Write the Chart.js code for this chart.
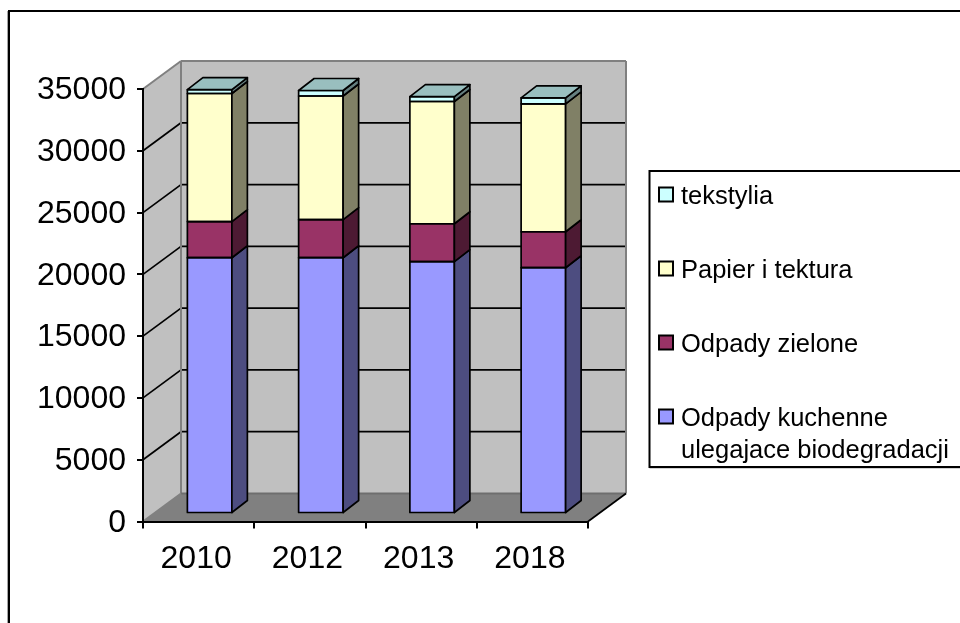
<!DOCTYPE html>
<html><head><meta charset="utf-8">
<style>html,body{margin:0;padding:0;background:#fff;overflow:hidden}canvas{display:block}</style>
<script src="https://cdn.jsdelivr.net/npm/chart.js@4"></script>
</head><body><canvas id="c" width="960" height="623"></canvas>
<script>
const categories = ["2010","2012","2013","2018"];
const kuchenne = [20700,20700,20380,19890];
const zielone  = [2920,3080,3070,2910];
const papier   = [10370,10005,9890,10350];
const tekstylia= [310,445,400,490];
const labelKuchenne = ["Odpady kuchenne","ulegajace biodegradacji"];
const labelZielone = "Odpady zielone";
const labelPapier = "Papier i tektura";
const labelTekstylia = "tekstylia";
const yTicks = [0,5000,10000,15000,20000,25000,30000,35000];

const WALL_DX=38, WALL_DY=28, BAR_DX=11, BAR_DY=8, DEPTH_DX=15.5, DEPTH_DY=12;
const FONT='"Liberation Sans", Arial, sans-serif';
const LW=1.7;

function poly(ctx,pts,fill,stroke,lw){
  ctx.beginPath();pts.forEach((p,i)=>i?ctx.lineTo(p[0],p[1]):ctx.moveTo(p[0],p[1]));ctx.closePath();
  if(fill){ctx.fillStyle=fill;ctx.fill();}
  if(stroke){ctx.strokeStyle=stroke;ctx.lineWidth=lw;ctx.lineJoin='round';ctx.stroke();}
}
function seg(ctx,x1,y1,x2,y2,c,lw){ctx.beginPath();ctx.moveTo(x1,y1);ctx.lineTo(x2,y2);ctx.strokeStyle=c;ctx.lineWidth=lw;ctx.stroke();}

const scene={
  id:'scene',
  beforeDraw(chart){
    const {ctx,scales:{x,y}}=chart;
    const L=x.left,R=x.right,T=y.getPixelForValue(35000),B=y.getPixelForValue(0);
    ctx.save();
    ctx.fillStyle='#fff';ctx.fillRect(0,0,960,623);
    seg(ctx,7.5,11,7.5,623,'#a6a6a6',1);
    seg(ctx,9,10,9,623,'#000',2);
    seg(ctx,8,11,960,11,'#000',2);
    poly(ctx,[[L,T],[L+WALL_DX,T-WALL_DY],[L+WALL_DX,B-WALL_DY],[L,B]],'#C0C0C0');
    poly(ctx,[[L+WALL_DX,T-WALL_DY],[R+WALL_DX,T-WALL_DY],[R+WALL_DX,B-WALL_DY],[L+WALL_DX,B-WALL_DY]],'#C0C0C0');
    poly(ctx,[[L,B],[L+WALL_DX,B-WALL_DY],[R+WALL_DX,B-WALL_DY],[R,B]],'#808080');
    yTicks.forEach(v=>{
      if(v===0||v===35000)return;
      const p=y.getPixelForValue(v);
      seg(ctx,L,p,L+WALL_DX,p-WALL_DY,'#000',LW);
      seg(ctx,L+WALL_DX,p-WALL_DY,R+WALL_DX-1,p-WALL_DY,'#000',LW);
    });
    const g='#808080';
    seg(ctx,L+WALL_DX,T-WALL_DY,R+WALL_DX,T-WALL_DY,g,2);
    seg(ctx,L,T,L+WALL_DX,T-WALL_DY,g,2);
    seg(ctx,L+WALL_DX,T-WALL_DY,L+WALL_DX,B-WALL_DY,g,2);
    seg(ctx,R+WALL_DX,T-WALL_DY,R+WALL_DX,B-WALL_DY,g,2);
    seg(ctx,L+WALL_DX,B-WALL_DY,R+WALL_DX,B-WALL_DY,'#6e6e6e',2);
    seg(ctx,L,B,L+WALL_DX,B-WALL_DY,g,2);
    seg(ctx,R,B,R+WALL_DX,B-WALL_DY,'#000',LW);
    ctx.restore();
  },
  beforeDatasetsDraw(chart){
    const {ctx}=chart;
    ctx.save();
    ctx.translate(BAR_DX,-BAR_DY);
  },
  afterDatasetsDraw(chart){
    const {ctx,data}=chart;
    const n=data.datasets.length;
    data.datasets.forEach((ds,i)=>{
      chart.getDatasetMeta(i).data.forEach(b=>{
        const xr=b.x+b.width/2, xl=b.x-b.width/2, top=b.y, bot=b.base;
        poly(ctx,[[xl,top],[xr,top],[xr,bot],[xl,bot]],null,'#000',LW);
        poly(ctx,[[xr,top],[xr+DEPTH_DX,top-DEPTH_DY],[xr+DEPTH_DX,bot-DEPTH_DY],[xr,bot]],ds.sideColor,'#000',LW);
        if(i===n-1) poly(ctx,[[xl,top],[xl+DEPTH_DX,top-DEPTH_DY],[xr+DEPTH_DX,top-DEPTH_DY],[xr,top]],ds.topColor,'#000',LW);
      });
    });
    ctx.restore();
  },
  afterDraw(chart){
    const {ctx,data}=chart;
    ctx.save();
    seg(ctx,649.5,468,960,468,'#a6a6a6',1);
    seg(ctx,649.5,171,960,171,'#000',2);
    seg(ctx,649.5,467,960,467,'#000',2);
    seg(ctx,649.5,170,649.5,468,'#000',2);
    const rows=[194.5,268.5,342.5,416.5];
    ctx.font='25.5px '+FONT;ctx.textAlign='left';ctx.textBaseline='alphabetic';
    [3,2,1,0].forEach((di,r)=>{
      const ds=data.datasets[di], cy=rows[r];
      ctx.fillStyle=ds.backgroundColor;ctx.fillRect(659,cy-7,14,14);
      ctx.strokeStyle='#000';ctx.lineWidth=2;ctx.strokeRect(659,cy-7,14,14);
      ctx.fillStyle='#000';
      [].concat(ds.label).forEach((t,k)=>ctx.fillText(t,681,cy+9.5+k*32));
    });
    ctx.restore();
  }
};

new Chart(document.getElementById('c'),{
  type:'bar',
  data:{labels:categories,datasets:[
    {label:labelKuchenne,data:kuchenne,backgroundColor:'#9999FF',sideColor:'#4D4D80',topColor:'#7373BF'},
    {label:labelZielone,data:zielone,backgroundColor:'#993366',sideColor:'#4D1A33',topColor:'#732650'},
    {label:labelPapier,data:papier,backgroundColor:'#FFFFCC',sideColor:'#808066',topColor:'#BFBF99'},
    {label:labelTekstylia,data:tekstylia,backgroundColor:'#CCFFFF',sideColor:'#668080',topColor:'#99BFBF'}
  ].map(d=>Object.assign(d,{borderWidth:0,barPercentage:0.4,categoryPercentage:1}))},
  plugins:[scene],
  options:{
    responsive:false,animation:false,
    layout:{padding:{left:0,top:89,right:372,bottom:0}},
    plugins:{legend:{display:false},tooltip:{enabled:false}},
    scales:{
      x:{stacked:true,
        afterFit(s){s.height=101.5;},
        border:{color:'#000',width:2},
        grid:{drawOnChartArea:false,color:'#000',lineWidth:2,tickLength:7,offset:true},
        ticks:{color:'#000',padding:11,labelOffset:-2.5,font:{family:FONT,size:32},maxRotation:0}},
      y:{stacked:true,min:0,max:35000,
        afterFit(s){s.width=143;},
        afterBuildTicks(s){s.ticks=yTicks.map(v=>({value:v}));},
        border:{color:'#000',width:2},
        grid:{drawOnChartArea:false,color:'#000',lineWidth:2,tickLength:6},
        ticks:{color:'#000',padding:11,labelOffset:1.5,font:{family:FONT,size:32},callback:v=>String(v)}}
    }
  }
});
</script></body></html>
